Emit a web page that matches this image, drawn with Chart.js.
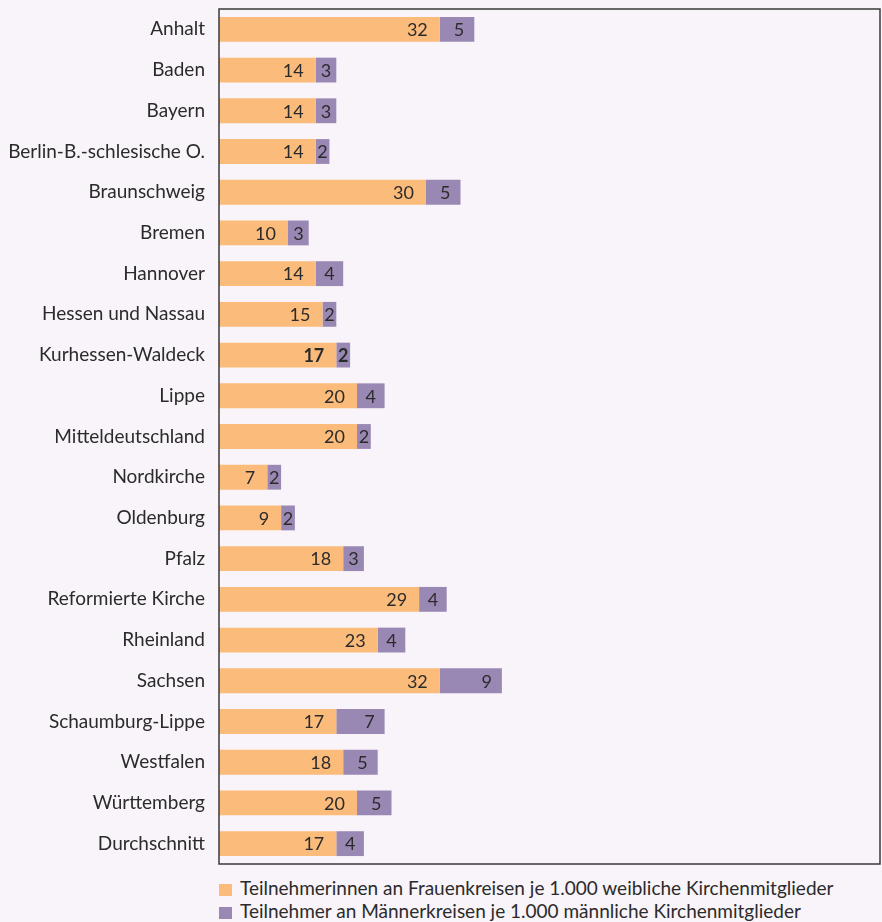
<!DOCTYPE html>
<html>
<head>
<meta charset="utf-8">
<script src="https://cdn.jsdelivr.net/npm/chart.js@4/dist/chart.umd.min.js"></script>
<style>
    body{ margin:0; background:#f8f4f9; width:882px; height:922px; overflow:hidden; font-family:Lato, "Liberation Sans", sans-serif; color:#2b2b2b; }
    #wrap{ position:absolute; left:0; top:0; width:882px; height:870px; }
    #legend{ position:absolute; left:219px; top:876px; font-size:19px; line-height:23px; }
    #legend div{ white-space:nowrap; }
    #legend span{ display:inline-block; width:13px; height:12px; margin-right:8px; vertical-align:-1px; }
</style>
</head>
<body>
<div id="wrap"><canvas id="bar-chart" width="882" height="870"></canvas></div>
<div id="legend"></div>
<script>
const landeskirchen = ['Anhalt','Baden','Bayern','Berlin-B.-schlesische O.','Braunschweig','Bremen','Hannover',
    'Hessen und Nassau','Kurhessen-Waldeck','Lippe','Mitteldeutschland','Nordkirche','Oldenburg','Pfalz',
    'Reformierte Kirche','Rheinland','Sachsen','Schaumburg-Lippe','Westfalen','Württemberg','Durchschnitt'];
const frauen = [32,14,14,14,30,10,14,15,17,20,20,7,9,18,29,23,32,17,18,20,17];
const maenner = [5,3,3,2,5,3,4,2,2,4,2,2,2,3,4,4,9,7,5,5,4];
const seriesNames = ['Teilnehmerinnen an Frauenkreisen je 1.000 weibliche Kirchenmitglieder',
    'Teilnehmer an Männerkreisen je 1.000 männliche Kirchenmitglieder'];
const colors = ['#fbbb7b','#9a88b4'];
const boldRow = 'Kurhessen-Waldeck';

const FONT = 'Lato, "Liberation Sans", sans-serif';

// frame around the plot area
const framePlugin = {
    id: 'frame',
    afterDraw(chart){
        const a = chart.chartArea, c = chart.ctx;
        c.save();
        c.strokeStyle = '#3a3a3a';
        c.lineWidth = 1.5;
        c.strokeRect(a.left, a.top, a.right - a.left, a.bottom - a.top);
        c.restore();
    }
};

// values written inside the bar segments, right aligned (centred when the segment is narrow)
const valuePlugin = {
    id: 'values',
    afterDatasetsDraw(chart){
        const c = chart.ctx;
        c.save();
        c.fillStyle = '#2b2b2b';
        c.textBaseline = 'middle';
        c.textAlign = 'right';
        chart.data.datasets.forEach(function(ds, d){
            const meta = chart.getDatasetMeta(d);
            meta.data.forEach(function(bar, i){
                const bold = chart.data.labels[i] === boldRow;
                c.font = (bold ? 'bold ' : '') + '18px ' + FONT;
                const txt = String(ds.data[i]);
                const w = c.measureText(txt).width;
                const seg = bar.x - bar.base;
                const pad = Math.min(d === 0 ? 12 : 10, (seg - w) / 2);
                c.fillText(txt, bar.x - pad, bar.y + 1);
            });
        });
        c.restore();
    }
};

var ctx = document.getElementById('bar-chart').getContext('2d');
var chart = new Chart(ctx, {
    type: 'bar',
    data: {
        labels: landeskirchen,
        datasets: [
            { label: seriesNames[0], data: frauen, backgroundColor: colors[0] },
            { label: seriesNames[1], data: maenner, backgroundColor: colors[1] }
        ]
    },
    options: {
        indexAxis: 'y',
        responsive: false,
        animation: false,
        layout: { padding: { top: 9, bottom: 6, right: 2, left: 0 } },
        datasets: { bar: { categoryPercentage: 1, barPercentage: 0.61 } },
        scales: {
            x: { stacked: true, min: 0, max: 95.8, display: false },
            y: {
                stacked: true,
                grid: { display: false, drawTicks: false },
                border: { display: false },
                ticks: { color: '#2b2b2b', font: { family: FONT, size: 19 }, padding: 14 },
                afterFit: function(scale){
                    scale.width = 219;
                    scale.paddingTop = 0;
                    scale.paddingBottom = 0;
                }
            }
        },
        plugins: { legend: { display: false }, tooltip: { enabled: false } }
    },
    plugins: [valuePlugin, framePlugin]
});

// legend below the chart
const legend = document.getElementById('legend');
seriesNames.forEach(function(name, i){
    const row = document.createElement('div');
    const box = document.createElement('span');
    box.style.background = colors[i];
    row.appendChild(box);
    row.appendChild(document.createTextNode(name));
    legend.appendChild(row);
});
</script>
</body>
</html>
